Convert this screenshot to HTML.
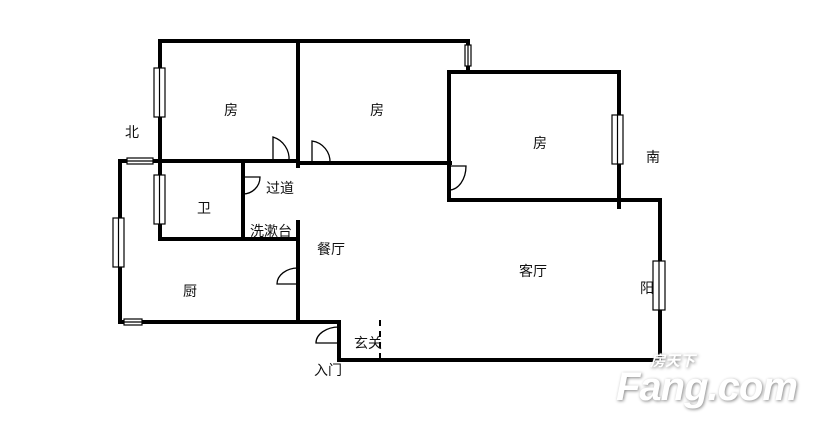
<!DOCTYPE html>
<html><head><meta charset="utf-8"><style>
html,body{margin:0;padding:0;background:#fff;}
svg text{font-family:"Liberation Sans","Noto Sans CJK SC",sans-serif;font-size:14px;fill:#111;}
</style></head><body>
<svg width="814" height="419" viewBox="0 0 814 419" xmlns="http://www.w3.org/2000/svg">
<g stroke="#000" stroke-width="4" fill="none" stroke-linecap="square">
<!-- top -->
<path d="M160 41 H468 V70"/>
<path d="M160 41 V239 H295"/>
<path d="M298 41 V166"/>
<path d="M120 161 H298"/>
<path d="M298 163 H450"/>
<path d="M243 161 V239"/>
<path d="M120 161 V322 H339 V360 H660 V200 H619"/>
<path d="M298 222 V319"/>
<path d="M449 72 H619 V207"/>
<path d="M449 72 V200 H619"/>
</g>
<!-- dashed small -->
<path d="M380 320 V358" stroke="#000" stroke-width="2" stroke-dasharray="6,5"/>
<!-- windows -->
<g fill="#fff" stroke="#000" stroke-width="1.2">
<rect x="154" y="68" width="11" height="49"/><line x1="159.5" y1="68" x2="159.5" y2="117"/>
<rect x="154" y="175" width="11" height="49"/><line x1="159.5" y1="175" x2="159.5" y2="224"/>
<rect x="127" y="158" width="26" height="6"/><line x1="127" y1="161" x2="153" y2="161"/>
<rect x="113" y="218" width="11" height="49"/><line x1="118.5" y1="218" x2="118.5" y2="267"/>
<rect x="124" y="319" width="18" height="6"/><line x1="124" y1="322" x2="142" y2="322"/>
<rect x="465" y="45" width="6" height="21"/><line x1="468" y1="45" x2="468" y2="66"/>
<rect x="612" y="115" width="11" height="49"/><line x1="617.5" y1="115" x2="617.5" y2="164"/>
<rect x="653" y="261" width="12" height="49"/><line x1="659" y1="261" x2="659" y2="310"/>
</g>
<!-- doors -->
<g stroke="#000" stroke-width="1.3" fill="none">
<path d="M273 161 V137 A23 23 0 0 1 289 161"/>
<path d="M312 163 V141 A21 21 0 0 1 330 163"/>
<path d="M243 177 H260 A17 17 0 0 1 243 194"/>
<path d="M298 284 H277 A21 16 0 0 1 298 268"/>
<path d="M339 343 H316 A23 16 0 0 1 339 327"/>
<path d="M449 166 H466 A17 24 0 0 1 449 190"/>
</g>
<!-- labels -->
<text x="224" y="115">房</text>
<text x="370" y="115">房</text>
<text x="533" y="148">房</text>
<text x="125" y="137">北</text>
<text x="646" y="162">南</text>
<text x="197" y="213">卫</text>
<text x="266" y="193">过道</text>
<text x="250" y="236">洗漱台</text>
<text x="317" y="254">餐厅</text>
<text x="183" y="296">厨</text>
<text x="519" y="276">客厅</text>
<text x="640" y="293">阳</text>
<text x="354" y="348">玄关</text>
<text x="314" y="375">入门</text>
<!-- watermark -->
<g style="filter:drop-shadow(1px 1px 1.5px #888)">
<text x="650" y="366" style="font-size:15px;font-weight:bold;font-style:italic;fill:#fff">房天下</text>
<text x="616" y="400" style="font-size:40px;font-weight:bold;font-style:italic;fill:#fff;letter-spacing:-1px">Fang.com</text>
</g>
</svg>
</body></html>
